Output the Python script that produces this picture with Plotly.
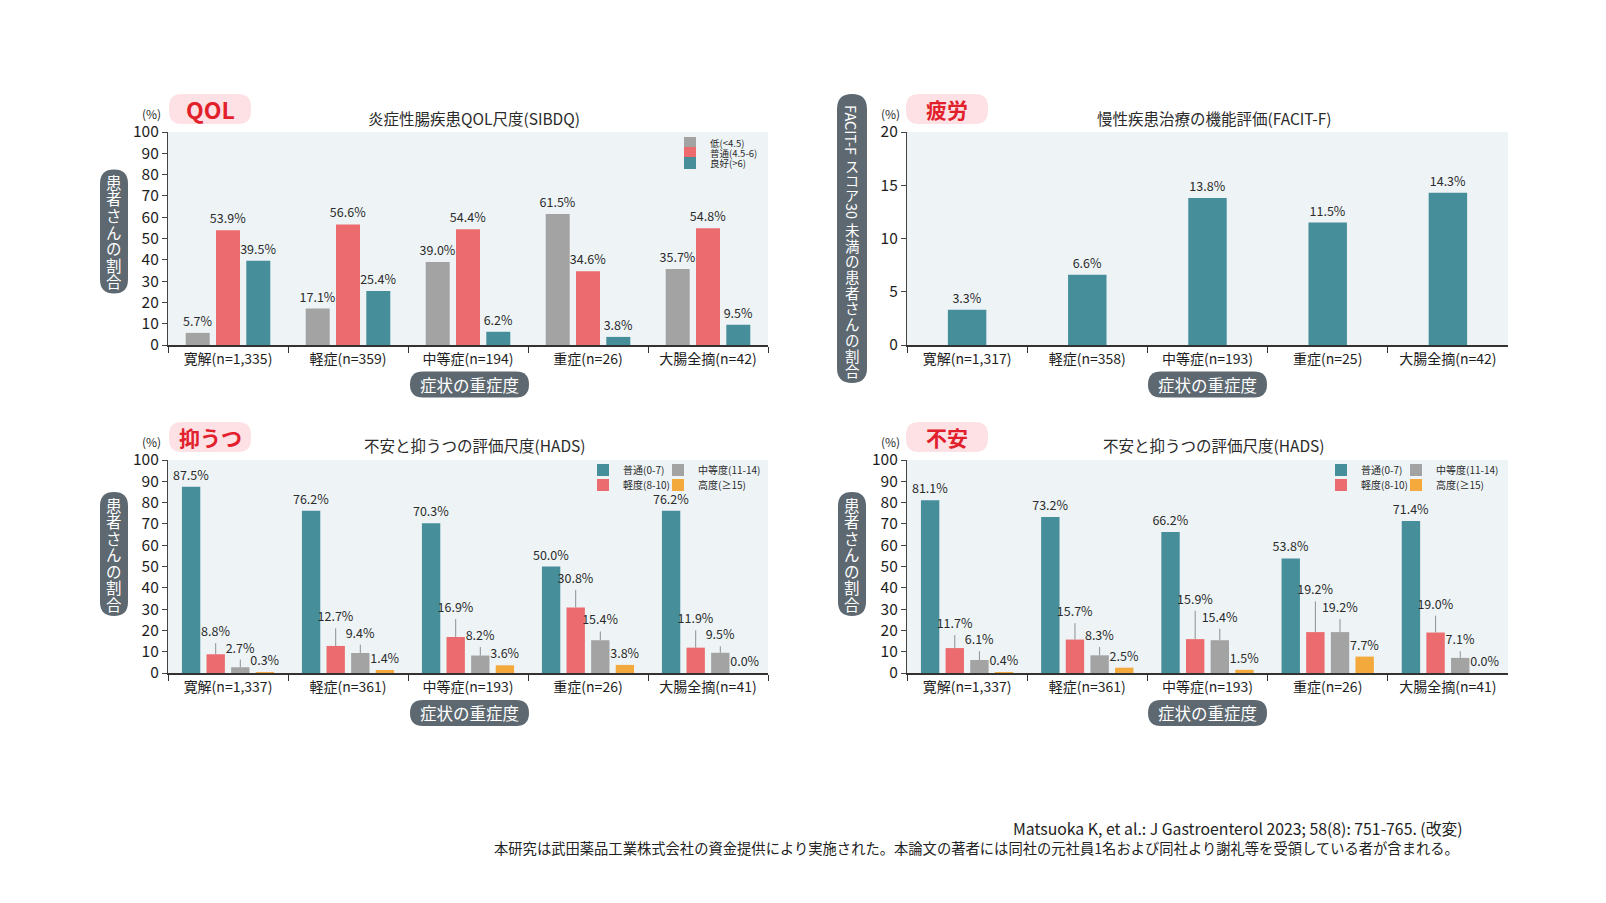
import plotly.graph_objects as go

W, H = 1606, 903

# ---------------- data ----------------
qol_cats = ["寛解(n=1,335)", "軽症(n=359)", "中等症(n=194)", "重症(n=26)", "大腸全摘(n=42)"]
qol_names = ["低(<4.5)", "普通(4.5-6)", "良好(>6)"]
qol_low = [5.7, 17.1, 39.0, 61.5, 35.7]
qol_mid = [53.9, 56.6, 54.4, 34.6, 54.8]
qol_good = [39.5, 25.4, 6.2, 3.8, 9.5]

fat_cats = ["寛解(n=1,317)", "軽症(n=358)", "中等症(n=193)", "重症(n=25)", "大腸全摘(n=42)"]
fat_vals = [3.3, 6.6, 13.8, 11.5, 14.3]

hads_cats = ["寛解(n=1,337)", "軽症(n=361)", "中等症(n=193)", "重症(n=26)", "大腸全摘(n=41)"]
hads_names = ["普通(0-7)", "軽度(8-10)", "中等度(11-14)", "高度(≥15)"]

dep_normal = [87.5, 76.2, 70.3, 50.0, 76.2]
dep_mild = [8.8, 12.7, 16.9, 30.8, 11.9]
dep_moderate = [2.7, 9.4, 8.2, 15.4, 9.5]
dep_severe = [0.3, 1.4, 3.6, 3.8, 0.0]
dep_mild_leader = [5.2, 8.3, 8.4, 8.2, 8.1]
dep_moderate_leader = [3.6, 3.9, 4.0, 4.1, 3.0]

anx_normal = [81.1, 73.2, 66.2, 53.8, 71.4]
anx_mild = [11.7, 15.7, 15.9, 19.2, 19.0]
anx_moderate = [6.1, 8.3, 15.4, 19.2, 7.1]
anx_severe = [0.4, 2.5, 1.5, 7.7, 0.0]
anx_mild_leader = [6.1, 7.7, 13.3, 14.4, 7.9]
anx_moderate_leader = [4.1, 3.9, 5.4, 6.1, 3.1]

# ---------------- styles ----------------
FONT = "Noto Sans CJK JP"
TEAL = "#478e9b"
RED = "#eb6b6e"
GRAY = "#a3a3a3"
ORANGE = "#f4a93c"
PILL = "#5d6870"
BADGE = "#fde1e4"
BADGE_TXT = "#e2202c"
TXT = "#2b2b2b"
LEADER = "#8f8f8f"

QOL_CENTERS, QOL_W = [-0.2525, 0.0, 0.2525], 0.2
HADS_CENTERS, HADS_W = [-0.3075, -0.1025, 0.1025, 0.3075], 0.153
FAT_W = 0.32


def X(px):
    return px / W


def Y(py):
    return 1 - py / H


fig = go.Figure()


def labels(vals):
    return [f"{v:.1f}%" for v in vals]


def add_series(xa, ya, cats, vals, color, name, center, width, legend=None, leader=None):
    off = center - width / 2
    common = dict(x=cats, xaxis=xa, yaxis=ya, width=width, offset=off,
                  textposition="outside", textangle=0, constraintext="none",
                  cliponaxis=False, textfont=dict(size=12.5, color=TXT, family=FONT))
    if leader is None:
        fig.add_trace(go.Bar(y=vals, name=name, marker=dict(color=color, line_width=0),
                             text=labels(vals), legend=legend or "legend",
                             showlegend=legend is not None, hoverinfo="x+y", **common))
    else:
        fig.add_trace(go.Bar(y=vals, name=name, marker=dict(color=color, line_width=0),
                             legend=legend or "legend", showlegend=legend is not None,
                             error_y=dict(type="data", symmetric=False, array=leader,
                                          arrayminus=[0] * len(leader), color=LEADER,
                                          thickness=1, width=0),
                             hoverinfo="x+y", **common))
        tops = [v + l for v, l in zip(vals, leader)]
        fig.add_trace(go.Bar(y=tops, marker=dict(color="rgba(0,0,0,0)", line_width=0),
                             text=labels(vals), showlegend=False, hoverinfo="skip", **common))


# QOL panel (x / y)
for vals, color, name, c, lg in zip([qol_low, qol_mid, qol_good], [GRAY, RED, TEAL], qol_names,
                                    QOL_CENTERS, ["legend", "legend2", "legend3"]):
    add_series("x", "y", qol_cats, vals, color, name, c, QOL_W, legend=lg)

# Fatigue panel (x2 / y2)
add_series("x2", "y2", fat_cats, fat_vals, TEAL, "FACIT-F", 0.0, FAT_W)

# Depression panel (x3 / y3)
add_series("x3", "y3", hads_cats, dep_normal, TEAL, hads_names[0], HADS_CENTERS[0], HADS_W, legend="legend4")
add_series("x3", "y3", hads_cats, dep_mild, RED, hads_names[1], HADS_CENTERS[1], HADS_W, legend="legend5", leader=dep_mild_leader)
add_series("x3", "y3", hads_cats, dep_moderate, GRAY, hads_names[2], HADS_CENTERS[2], HADS_W, legend="legend6", leader=dep_moderate_leader)
add_series("x3", "y3", hads_cats, dep_severe, ORANGE, hads_names[3], HADS_CENTERS[3], HADS_W, legend="legend7")

# Anxiety panel (x4 / y4)
add_series("x4", "y4", hads_cats, anx_normal, TEAL, hads_names[0], HADS_CENTERS[0], HADS_W, legend="legend8")
add_series("x4", "y4", hads_cats, anx_mild, RED, hads_names[1], HADS_CENTERS[1], HADS_W, legend="legend9", leader=anx_mild_leader)
add_series("x4", "y4", hads_cats, anx_moderate, GRAY, hads_names[2], HADS_CENTERS[2], HADS_W, legend="legend10", leader=anx_moderate_leader)
add_series("x4", "y4", hads_cats, anx_severe, ORANGE, hads_names[3], HADS_CENTERS[3], HADS_W, legend="legend11")

# ---------------- axes ----------------
panels = {
    "": ((168, 768), (132, 345), 100, 10),
    "2": ((907, 1508), (132, 345), 20, 5),
    "3": ((168, 768), (460, 673), 100, 10),
    "4": ((907, 1508), (460, 673), 100, 10),
}
layout_axes = {}
for k, ((x0, x1), (y0, y1), ymax, dt) in panels.items():
    layout_axes["xaxis" + k] = dict(
        domain=[X(x0), X(x1)], anchor="y" + k, type="category", range=[-0.5, 4.5],
        tickson="boundaries", ticks="outside", ticklen=6, tickcolor="#333", tickwidth=1.2,
        showline=True, linecolor="#333", linewidth=1.5, showgrid=False, zeroline=False,
        tickfont=dict(size=14, color="#1e1e1e", family=FONT), fixedrange=True)
    layout_axes["yaxis" + k] = dict(
        domain=[Y(y1), Y(y0)], anchor="x" + k, range=[0, ymax], dtick=dt, tick0=0,
        ticks="outside", ticklen=5, tickcolor="#444", showline=True, linecolor="#444",
        linewidth=1.2, showgrid=False, zeroline=False,
        tickfont=dict(size=15.5, color="#1e1e1e", family=FONT), fixedrange=True)

# ---------------- decorations ----------------
shapes = []
annotations = []


def rrect(x0, y0, x1, y1, r, color):
    pts = [
        ("M", [(x0 + r, y0)]), ("L", [(x1 - r, y0)]), ("Q", [(x1, y0), (x1, y0 + r)]),
        ("L", [(x1, y1 - r)]), ("Q", [(x1, y1), (x1 - r, y1)]), ("L", [(x0 + r, y1)]),
        ("Q", [(x0, y1), (x0, y1 - r)]), ("L", [(x0, y0 + r)]), ("Q", [(x0, y0), (x0 + r, y0)]),
    ]
    path = " ".join(cmd + " " + " ".join(f"{X(a):.5f},{Y(b):.5f}" for a, b in p) for cmd, p in pts) + " Z"
    shapes.append(dict(type="path", path=path, xref="paper", yref="paper",
                       fillcolor=color, line=dict(width=0), layer="below"))


def text(px, py, s, size, color=TXT, xanchor="center", angle=0, bold=False):
    annotations.append(dict(x=X(px), y=Y(py), xref="paper", yref="paper", text=(f"<b>{s}</b>" if bold else s),
                            showarrow=False, xanchor=xanchor, yanchor="middle", textangle=angle,
                            font=dict(size=size, color=color, family=FONT)))


# badges
for (bx0, by0), label, fs in [((169, 94), "QOL", 23), ((906, 94), "疲労", 21),
                              ((169, 422), "抑うつ", 21), ((906, 422), "不安", 21)]:
    rrect(bx0, by0, bx0 + 82, by0 + 30, 13, BADGE)
    text(bx0 + 41, by0 + 15, label, fs, BADGE_TXT, bold=True)

# titles and (%)
text(474, 118, "炎症性腸疾患QOL尺度(SIBDQ)", 15.5)
text(1214, 118, "慢性疾患治療の機能評価(FACIT-F)", 15.5)
text(475, 445, "不安と抑うつの評価尺度(HADS)", 15.5)
text(1214, 445, "不安と抑うつの評価尺度(HADS)", 15.5)
for px, py in [(151, 114), (890, 114), (151, 442), (890, 442)]:
    text(px, py, "(%)", 12)

# x-axis title pills
for cx, cy in [(469.5, 384.5), (1207.5, 384.5), (469.5, 713), (1207.5, 713)]:
    rrect(cx - 59.5, cy - 13, cx + 59.5, cy + 13, 13, PILL)
    text(cx, cy, "症状の重症度", 16.5, "white")

# y-axis title pills (vertical text)
ylabel = "患者さんの割合"
for cx, cy in [(114, 231.5), (114, 554), (852, 554)]:
    rrect(cx - 14, cy - 62, cx + 14, cy + 62, 14, PILL)
    for i, ch in enumerate(ylabel):
        text(cx, cy + (i - 3) * 16.5, ch, 15.5, "white")

# fatigue y pill
rrect(837, 94, 867, 383, 15, PILL)
text(852, 130, "FACIT-F", 14.5, "white", angle=90)
py = 166
for ch in "スコア":
    text(852, py, ch, 14, "white")
    py += 14.5
text(852, 211, "30", 14.5, "white", angle=90)
py = 229.5
for ch in "未満の患者さんの割合":
    text(852, py, ch, 14.5, "white")
    py += 15.7

# footnote
text(1465, 828, "Matsuoka K, et al.: J Gastroenterol 2023; 58(8): 751-765. (改変)", 15.8, "#222", xanchor="right")
text(1461, 847, "本研究は武田薬品工業株式会社の資金提供により実施された。本論文の著者には同社の元社員1名および同社より謝礼等を受領している者が含まれる。",
     14.3, "#222", xanchor="right")


# ---------------- legends (one entry each, placed like the reference grid) ----------------
def leg(px, py, size):
    return dict(x=X(px), y=Y(py), xanchor="left", yanchor="middle", orientation="v",
                bgcolor="rgba(0,0,0,0)", borderwidth=0, itemwidth=30, tracegroupgap=0,
                font=dict(size=size, color=TXT, family=FONT), itemclick=False, itemdoubleclick=False)


legends = dict(
    legend=leg(670, 143, 9.5), legend2=leg(670, 153, 9.5), legend3=leg(670, 163, 9.5),
    legend4=leg(583, 470, 10), legend5=leg(583, 485, 10),
    legend6=leg(658, 470, 10), legend7=leg(658, 485, 10),
    legend8=leg(1321, 470, 10), legend9=leg(1321, 485, 10),
    legend10=leg(1396, 470, 10), legend11=leg(1396, 485, 10),
)

fig.update_layout(
    width=W, height=H, margin=dict(l=0, r=0, t=0, b=0, pad=0, autoexpand=False),
    paper_bgcolor="white", plot_bgcolor="#eef4f6",
    barmode="overlay", font=dict(family=FONT, color=TXT),
    shapes=shapes, annotations=annotations, showlegend=True,
    **layout_axes, **legends,
)

fig.write_html(
    "out.html", config={"displayModeBar": False},
    post_script=("document.body.style.margin='0';"
                 "document.documentElement.style.overflow='hidden';"
                 "var gd=document.getElementById('{plot_id}');"
                 "gd.style.position='fixed';gd.style.left='0px';gd.style.top='0px';"),
)
